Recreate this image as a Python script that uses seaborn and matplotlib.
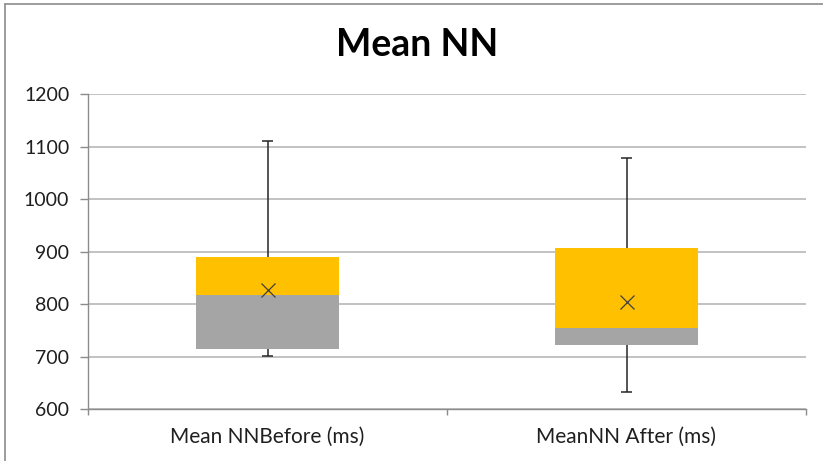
import matplotlib
matplotlib.use("Agg")
import matplotlib.pyplot as plt
from matplotlib.lines import Line2D
import seaborn as sns
import pandas as pd
import numpy as np

# Summary statistics of Mean NN (ms), before and after
categories = ["Mean NNBefore (ms)", "MeanNN After (ms)"]
minimum = [701, 633]
q1 = [715, 722]
median = [818, 754]
q3 = [890, 907]
maximum = [1111, 1078]
mean = [827, 804]

yticks = [600, 700, 800, 900, 1000, 1100, 1200]

ORANGE = "#FFC000"
GREY = "#A5A5A5"
GRID = "#B8B8B8"
AXIS = "#8C8C8C"
TEXT = "#1F1F1F"

sns.set_theme(style="white")
plt.rcParams["font.family"] = ["Lato", "DejaVu Sans"]

df = pd.DataFrame({
    "category": categories,
    "lower": np.array(median) - np.array(q1),
    "upper": np.array(q3) - np.array(median),
})

fig = plt.figure(figsize=(8.23, 4.61), dpi=100)
ax = fig.add_axes([88 / 823, 1 - 409 / 461, (806 - 88) / 823, (409 - 94) / 461])

# stacked box: grey from Q1 to median, orange from median to Q3
sns.barplot(data=df, x="category", y="lower", color=GREY, saturation=1,
            width=0.4, bottom=q1, ax=ax, zorder=2, linewidth=0)
sns.barplot(data=df, x="category", y="upper", color=ORANGE, saturation=1,
            width=0.4, bottom=median, ax=ax, zorder=2, linewidth=0)

xpos = np.arange(len(categories))
# whiskers with caps
ax.vlines(xpos, q3, maximum, color="#262626", lw=1.1, zorder=3)
ax.vlines(xpos, minimum, q1, color="#262626", lw=1.1, zorder=3)
ax.hlines(maximum, xpos - 0.014, xpos + 0.014, color="#262626", lw=1.1, zorder=3)
ax.hlines(minimum, xpos - 0.014, xpos + 0.014, color="#262626", lw=1.1, zorder=3)
# mean marker
ax.plot(xpos, mean, linestyle="none", marker="x", markersize=10,
        markeredgewidth=0.9, color="#404040", zorder=4)

ax.set_xlim(-0.5, len(categories) - 0.5)
ax.set_ylim(600, 1200)
ax.set_yticks(yticks)
ax.set_yticklabels([str(v) for v in yticks])
ax.set_xlabel("")
ax.set_ylabel("")

ax.yaxis.grid(True, color=GRID, lw=1.2, zorder=0)
ax.set_axisbelow(True)
for side in ["top", "right"]:
    ax.spines[side].set_visible(False)
for side in ["left", "bottom"]:
    ax.spines[side].set_color(AXIS)
    ax.spines[side].set_linewidth(1.0)

ax.tick_params(axis="y", which="major", left=True, length=5.5, width=1.0,
               color=AXIS, labelsize=14, labelcolor=TEXT, pad=8)
ax.tick_params(axis="x", which="major", bottom=False, length=0,
               labelsize=15, labelcolor=TEXT, pad=12.5)
ax.set_xticks([-0.5, 0.5, 1.5], minor=True)
ax.tick_params(axis="x", which="minor", bottom=True, length=4.5, width=1.0,
               color=AXIS)

fig.text(417 / 823, 1 - 45 / 461, "Mean NN", ha="center", va="center",
         fontsize=27, fontweight="bold", color="#000000")

# chart area frame (top and left edges)
fig.add_artist(Line2D([5 / 823, 1], [1 - 4 / 461, 1 - 4 / 461],
                      transform=fig.transFigure, color="#8C8C8C", lw=1.2))
fig.add_artist(Line2D([5 / 823, 5 / 823], [0, 1 - 4 / 461],
                      transform=fig.transFigure, color="#8C8C8C", lw=1.2))

fig.savefig("out.png", dpi=100)
